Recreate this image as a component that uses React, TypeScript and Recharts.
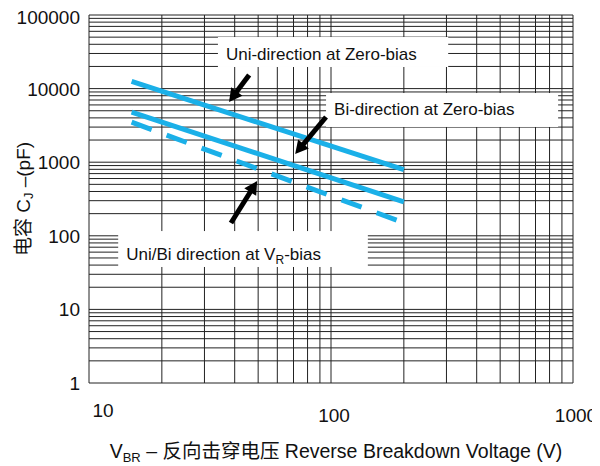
import { LineChart, Line, XAxis, YAxis, ReferenceLine } from 'recharts'

const FONT = "'Liberation Sans', Arial, 'Noto Sans CJK SC', sans-serif"
const CYAN = '#1bb0e8'
const INK = '#111'

// V_BR (V) at the two ends of each curve
const voltages = [15, 200]
// junction capacitance (pF)
const uniZeroBias = [12500, 790]
const biZeroBias = [4800, 290]
const vrBias = [3500, 150]

const xTicks = [10, 100, 1000]
const yTicks = [1, 10, 100, 1000, 10000, 100000]

// log paper grid
const gridX = [10, 20, 30, 40, 50, 60, 70, 80, 90, 100, 200, 300, 400, 500, 600, 700, 800, 900, 1000]
const gridY = [
  1, 2, 3, 4, 5, 6, 7, 8, 9,
  10, 20, 30, 40, 50, 60, 70, 80, 90,
  100, 200, 300, 400, 500, 600, 700, 800, 900,
  1000, 2000, 3000, 4000, 5000, 6000, 7000, 8000, 9000,
  10000, 20000, 30000, 40000, 50000, 60000, 70000, 80000, 90000,
  100000,
]

const data = voltages.map((v, i) => ({
  v,
  uni: uniZeroBias[i],
  bi: biZeroBias[i],
  vr: vrBias[i],
}))

function XTick({ x, y, payload }: any) {
  const first = payload.value === 10
  return (
    <text
      x={first ? x + 14 : x + 3}
      y={first ? y + 34 : y + 39}
      textAnchor="middle"
      fontSize={19}
      fontFamily={FONT}
      fill={INK}
    >
      {payload.value}
    </text>
  )
}

function YTick({ x, y, payload }: any) {
  return (
    <text x={x - 9} y={y + 7} textAnchor="end" fontSize={19} fontFamily={FONT} fill={INK}>
      {payload.value}
    </text>
  )
}

function Arrow({ x1, y1, x2, y2 }: any) {
  const dx = x2 - x1
  const dy = y2 - y1
  const len = Math.hypot(dx, dy)
  const ux = dx / len
  const uy = dy / len
  const head = 13
  const half = 7
  const bx = x2 - ux * head
  const by = y2 - uy * head
  const pts = `${x2},${y2} ${bx - uy * half},${by + ux * half} ${bx + uy * half},${by - ux * half}`
  return (
    <g>
      <line x1={x1} y1={y1} x2={bx + ux} y2={by + uy} stroke="#000" strokeWidth={5} />
      <polygon points={pts} fill="#000" />
    </g>
  )
}

// white label box that hides the grid behind it
const makeBox = (content: any, baseline: number) => ({ x1, y1, x2, y2 }: any) => {
  const x = Math.min(x1, x2)
  const y = Math.min(y1, y2)
  return (
    <g>
      <rect x={x} y={y} width={Math.abs(x2 - x1)} height={Math.abs(y2 - y1)} fill="#fff" />
      <text x={x + 8} y={y + baseline} fontSize={17} fontFamily={FONT} fill={INK}>
        {content}
      </text>
    </g>
  )
}

const xTitle = ({ viewBox }: any) => (
  <text
    x={viewBox.x + viewBox.width / 2 + 5}
    y={viewBox.y + 75}
    textAnchor="middle"
    fontSize={19.5}
    fontFamily={FONT}
    fill={INK}
    style={{ whiteSpace: 'pre' }}
  >
    <tspan>V</tspan>
    <tspan fontSize={13} dy={4}>BR</tspan>
    <tspan dy={-4}> – 反向击穿电压 Reverse Breakdown Voltage (V)</tspan>
  </text>
)

const yTitle = () => (
  <text
    x={15}
    y={191}
    transform="rotate(-90, 15, 191)"
    textAnchor="middle"
    dominantBaseline="central"
    fontSize={19}
    fontFamily={FONT}
    fill={INK}
    style={{ whiteSpace: 'pre' }}
  >
    <tspan>电容 C</tspan>
    <tspan fontSize={13} dy={5}>J</tspan>
    <tspan dy={-5}> –(pF)</tspan>
  </text>
)

export default function App() {
  return (
    <LineChart
      width={592}
      height={458}
      data={data}
      margin={{ top: 7, right: 27, bottom: 0, left: 0 }}
    >
      <XAxis
        dataKey="v"
        type="number"
        scale="log"
        domain={[10, 1000]}
        ticks={xTicks}
        allowDataOverflow
        axisLine={false}
        tickLine={false}
        tickSize={0}
        tickMargin={0}
        height={83}
        tick={<XTick />}
        label={xTitle}
      />
      <YAxis
        type="number"
        scale="log"
        domain={[1, 100000]}
        ticks={yTicks}
        allowDataOverflow
        axisLine={false}
        tickLine={false}
        tickSize={0}
        tickMargin={0}
        width={81}
        tick={<YTick />}
        label={yTitle}
      />

      {gridX.map((v) => (
        <ReferenceLine key={`gx${v}`} x={v} stroke="#222" strokeWidth={1} zIndex={-100} />
      ))}
      {gridY.map((v) => (
        <ReferenceLine key={`gy${v}`} y={v} stroke="#222" strokeWidth={1} zIndex={-100} />
      ))}

      <ReferenceLine
        segment={[{ x: 34.1, y: 50200 }, { x: 305, y: 19660 }]}
        shape={makeBox('Uni-direction at Zero-bias', 23)}
        zIndex={-50}
      />
      <ReferenceLine
        segment={[{ x: 95.4, y: 8710 }, { x: 868, y: 3010 }]}
        shape={makeBox('Bi-direction at Zero-bias', 22)}
        zIndex={-50}
      />
      <ReferenceLine
        segment={[{ x: 13.2, y: 116 }, { x: 142, y: 37.7 }]}
        shape={makeBox(
          <>
            <tspan>Uni/Bi direction at V</tspan>
            <tspan fontSize={12} dy={4}>R</tspan>
            <tspan dy={-4}>-bias</tspan>
          </>,
          29,
        )}
        zIndex={-50}
      />

      <Line dataKey="uni" stroke={CYAN} strokeWidth={5} dot={false} isAnimationActive={false} />
      <Line dataKey="bi" stroke={CYAN} strokeWidth={5} dot={false} isAnimationActive={false} />
      <Line
        dataKey="vr"
        stroke={CYAN}
        strokeWidth={5}
        strokeDasharray="21.4 15.9"
        dot={false}
        isAnimationActive={false}
      />

      <ReferenceLine segment={[{ x: 45.9, y: 15300 }, { x: 37.9, y: 6580 }]} shape={Arrow} zIndex={600} />
      <ReferenceLine segment={[{ x: 95.4, y: 4110 }, { x: 71.1, y: 1292 }]} shape={Arrow} zIndex={600} />
      <ReferenceLine segment={[{ x: 38.6, y: 149 }, { x: 49.5, y: 555 }]} shape={Arrow} zIndex={600} />
    </LineChart>
  )
}
